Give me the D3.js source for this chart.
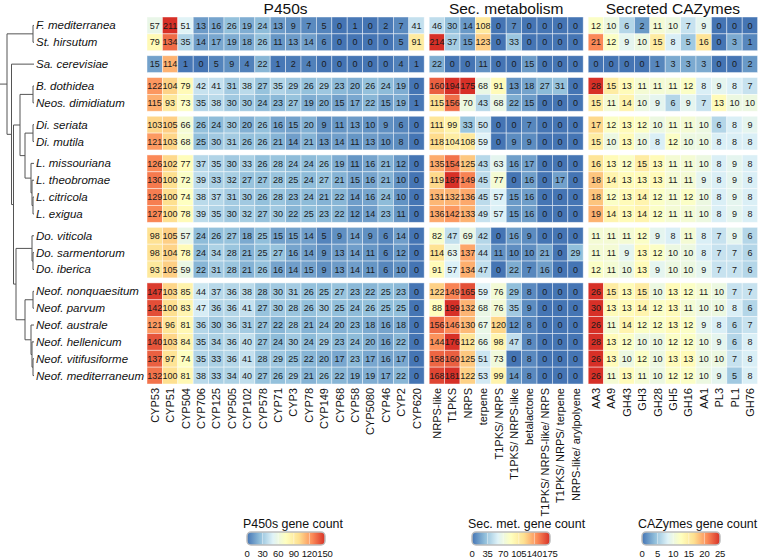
<!DOCTYPE html>
<html><head><meta charset="utf-8">
<script src="https://cdn.jsdelivr.net/npm/d3@7/dist/d3.min.js"></script>
<style>body{margin:0;background:#fff} text{font-family:"Liberation Sans",Arial,Helvetica,sans-serif}</style>
</head><body><svg id="c" width="760" height="560"></svg>
<script>
// ---------------- DATA ----------------
const species = ["F. mediterranea","St. hirsutum","Sa. cerevisiae","B. dothidea","Neos. dimidiatum","Di. seriata","Di. mutila","L. missouriana","L. theobromae","L. citricola","L. exigua","Do. viticola","Do. sarmentorum","Do. iberica","Neof. nonquaesitum","Neof. parvum","Neof. australe","Neof. hellenicum","Neof. vitifusiforme","Neof. mediterraneum"];
const rowGroup = [0,0,1,2,2,3,3,4,4,4,4,5,5,5,6,6,6,6,6,6];

const p450Cols = ["CYP53","CYP51","CYP504","CYP706","CYP125","CYP505","CYP102","CYP578","CYP71","CYP3","CYP78","CYP149","CYP68","CYP58","CYP5080","CYP46","CYP2","CYP620"];
const p450Vals = [
[57,211,51,13,16,26,19,24,13,9,7,5,0,1,0,2,7,41],
[79,134,35,14,17,19,18,26,11,13,14,6,0,0,0,0,5,91],
[15,114,1,0,5,9,4,22,1,2,4,0,0,0,0,0,4,1],
[122,104,79,42,41,31,38,27,35,29,26,29,23,20,26,24,19,0],
[115,93,73,35,38,30,30,24,23,27,19,20,15,17,22,15,19,1],
[103,105,66,26,24,30,20,26,16,15,20,9,11,13,10,9,6,0],
[121,103,68,25,30,31,26,26,21,14,21,13,14,11,13,10,8,0],
[126,102,77,37,35,30,33,26,28,24,24,26,19,11,16,21,12,0],
[130,100,72,39,33,32,27,27,28,25,24,27,21,15,16,21,10,0],
[129,100,74,38,37,31,30,26,28,23,24,21,22,14,16,24,10,0],
[127,100,78,39,35,30,32,27,30,22,25,23,22,12,14,23,11,0],
[98,105,57,24,26,27,18,25,15,15,14,5,9,14,9,6,14,0],
[98,104,78,24,34,28,21,25,27,16,14,9,13,14,11,6,12,0],
[93,105,59,22,31,28,21,26,16,14,15,9,13,14,11,6,10,0],
[147,103,85,44,37,36,38,28,30,31,26,25,27,23,22,25,23,0],
[142,100,83,47,36,36,41,27,30,28,26,30,25,24,26,25,25,0],
[121,96,81,36,30,36,31,27,22,28,21,24,20,23,18,16,18,0],
[140,103,84,35,34,36,40,27,24,30,24,29,23,24,20,16,22,0],
[137,97,74,35,33,36,41,28,29,25,22,20,17,23,17,16,17,0],
[132,100,81,38,33,34,40,27,26,29,21,26,22,19,19,17,22,0]];

const secCols = ["NRPS-like","T1PKS","NRPS","terpene","T1PKS/ NRPS","T1PKS/ NRPS-like","betalactone","T1PKS/ NRPS-like/ NRPS","T1PKS/ NRPS/ terpene","NRPS-like/ arylpolyene"];
const secVals = [
[46,30,14,108,0,7,0,0,0,0],
[214,37,15,123,0,33,0,0,0,0],
[22,0,0,11,0,0,15,0,0,0],
[160,194,175,68,91,13,18,27,31,0],
[115,156,70,43,68,22,15,0,0,0],
[111,99,33,50,0,0,7,0,0,0],
[118,104,108,59,0,9,9,0,0,0],
[135,154,125,43,63,16,17,0,0,0],
[119,187,149,45,77,0,16,0,17,0],
[131,132,136,45,57,15,16,0,0,0],
[136,142,133,49,57,15,16,0,0,0],
[82,47,69,42,0,16,9,0,0,0],
[114,63,137,44,11,10,10,21,0,29],
[91,57,134,47,0,22,7,16,0,0],
[122,149,165,59,76,29,8,0,0,0],
[88,199,132,68,76,35,9,0,0,0],
[156,146,130,67,120,12,8,0,0,0],
[144,176,112,66,98,47,8,0,0,0],
[158,160,125,51,73,0,8,0,0,0],
[168,181,122,53,99,14,8,0,0,0]];

const cazyCols = ["AA3","AA9","GH43","GH3","GH28","GH5","GH16","AA1","PL3","PL1","GH76"];
const cazyVals = [
[12,10,6,2,11,10,7,9,0,0,0],
[21,12,9,10,15,8,5,16,0,3,1],
[0,0,0,0,1,3,3,3,0,0,2],
[28,15,13,11,11,11,12,8,9,8,7],
[15,11,14,10,9,6,9,7,13,10,10],
[17,12,13,12,10,11,11,10,6,8,9],
[15,10,13,10,8,12,10,10,8,8,8],
[16,13,12,15,13,11,11,10,8,9,8],
[18,14,13,13,13,11,11,9,8,9,8],
[18,12,13,14,12,11,12,10,8,9,8],
[19,14,13,14,12,11,11,10,8,9,8],
[11,11,11,12,9,8,11,8,7,9,6],
[11,11,9,13,12,10,10,8,7,7,6],
[12,11,10,13,9,10,10,9,7,7,6],
[26,15,13,15,10,13,12,11,10,7,7],
[30,13,13,14,12,13,11,10,10,8,6],
[26,11,14,12,12,13,12,9,8,6,7],
[28,13,12,10,10,12,12,10,9,6,8],
[26,13,10,12,10,13,13,10,10,7,8],
[26,11,13,11,10,12,12,10,9,5,8]];

const p450Ticks = [0,30,60,90,120,150];
const secTicks = [0,35,70,105,140,175];
const cazyTicks = [0,5,10,15,20,25];
const palette = ["#4575B4","#91BFDB","#E0F3F8","#FFFFBF","#FEE090","#FC8D59","#D73027"];

// dendrogram: internal nodes with height h (distance above leaves), leaves by species index
const tree = {h:27, c:[
  {h:1, c:[0,1]},
  {h:22.5, c:[2,
    {h:20.5, c:[
      {h:14, c:[
        {h:1, c:[3,4]},
        {h:9, c:[
          {h:1, c:[5,6]},
          {h:3, c:[7, {h:2, c:[8, {h:1, c:[9,10]}]}]}
        ]}
      ]},
      {h:18, c:[
        {h:2, c:[11, {h:1, c:[12,13]}]},
        {h:9, c:[
          {h:1, c:[14,15]},
          {h:3, c:[16, {h:2, c:[17, {h:1, c:[18,19]}]}]}
        ]}
      ]}
    ]}
  ]}
]};

// ---------------- LAYOUT ----------------
const svg = d3.select("#c");
const topY = 17, rowH = 16.85, gGap = 5;
const cellW = 15.4, bGap = 5, x0 = 147;
const yBand = d3.scaleBand().domain(d3.range(species.length)).range([topY, topY + species.length*rowH]).paddingInner(0);
const rowY = i => yBand(i) + rowGroup[i]*gGap;
const bottomY = rowY(species.length-1) + rowH;

const blocks = [
  {title:"P450s", cols:p450Cols, vals:p450Vals, ticks:p450Ticks, legend:"P450s gene count", lx:243},
  {title:"Sec. metabolism", cols:secCols, vals:secVals, ticks:secTicks, legend:"Sec. met. gene count", lx:468},
  {title:"Secreted CAZymes", cols:cazyCols, vals:cazyVals, ticks:cazyTicks, legend:"CAZymes gene count", lx:638}
];
let cx = x0;
blocks.forEach((b,bi) => {
  b.x = d3.scaleBand().domain(b.cols).range([cx, cx + b.cols.length*cellW]);
  cx += b.cols.length*cellW + bGap;
  const max = b.ticks[b.ticks.length-1];
  b.color = d3.scaleLinear().domain(palette.map((_,i)=>i*max/(palette.length-1))).range(palette).clamp(true);
});

const defs = svg.append("defs");

blocks.forEach((b,bi) => {
  const g = svg.append("g");
  const cells = [];
  b.vals.forEach((row,ri) => row.forEach((v,ci) => cells.push({ri, col:b.cols[ci], v})));
  g.selectAll("rect.cell").data(cells).join("rect")
    .attr("x", d=>b.x(d.col)).attr("y", d=>rowY(d.ri))
    .attr("width", b.x.bandwidth()).attr("height", rowH)
    .attr("fill", d=>b.color(d.v))
    .attr("stroke","rgba(255,255,255,0.55)").attr("stroke-width",0.8);
  g.selectAll("text.val").data(cells).join("text")
    .attr("x", d=>b.x(d.col)+b.x.bandwidth()/2).attr("y", d=>rowY(d.ri)+rowH/2+3.2)
    .attr("text-anchor","middle").attr("font-size",9).attr("fill","#1a1a1a")
    .text(d=>d.v);
  const [a,z] = b.x.range();
  svg.append("text").attr("x",(a+z)/2).attr("y",14).attr("text-anchor","middle")
    .attr("font-size",15.5).attr("fill","#111").text(b.title);
  svg.append("g").selectAll("text").data(b.cols).join("text")
    .attr("transform", d=>`translate(${b.x(d)+b.x.bandwidth()/2+4},${bottomY+4}) rotate(-90)`)
    .attr("text-anchor","end").attr("font-size",11).attr("fill","#111").text(d=>d);

  const gid = "grad"+bi;
  const lg = defs.append("linearGradient").attr("id",gid);
  palette.forEach((c,i)=>lg.append("stop").attr("offset",(i/(palette.length-1))).attr("stop-color",c));
  const bx0 = b.lx + 4, bx1 = bx0 + 78;
  const ls = d3.scaleLinear().domain([0, b.ticks[b.ticks.length-1]]).range([bx0, bx1]);
  svg.append("text").attr("x",b.lx).attr("y",528).attr("font-size",12.4).attr("fill","#111").text(b.legend);
  svg.append("rect").attr("x",bx0).attr("y",532).attr("width",bx1-bx0).attr("height",13)
    .attr("rx",4).attr("fill",`url(#${gid})`).attr("stroke","#bdbdbd").attr("stroke-width",1.5);
  svg.append("g").selectAll("line").data(b.ticks.slice(1,-1)).join("line")
    .attr("x1",d=>ls(d)).attr("x2",d=>ls(d)).attr("y1",533).attr("y2",544)
    .attr("stroke","rgba(255,255,255,0.45)").attr("stroke-width",1);
  svg.append("g").selectAll("text").data(b.ticks).join("text")
    .attr("x",d=>ls(d)).attr("y",557).attr("text-anchor","middle").attr("font-size",9.5)
    .attr("letter-spacing",-0.2).attr("fill","#111")
    .text(d=>d);
});

const leafX = 34;
svg.append("g").selectAll("text").data(species).join("text")
  .attr("x", leafX+2).attr("y",(d,i)=>rowY(i)+rowH/2+4)
  .attr("font-size",11.5).attr("font-style","italic").attr("fill","#111").text(d=>d);

const hx = d3.scaleLinear().domain([0,27]).range([leafX, 7]);
const root = d3.hierarchy(tree, d => d.c ? d.c.map(k => typeof k === "number" ? {leaf:k} : k) : null);
root.eachAfter(n => {
  if (n.data.leaf !== undefined) { n.px = leafX; n.py = rowY(n.data.leaf)+rowH/2; }
  else { n.px = hx(n.data.h); n.py = d3.mean([d3.min(n.children,c=>c.py), d3.max(n.children,c=>c.py)]); }
});
const tg = svg.append("g").attr("stroke","#555").attr("stroke-width",1).attr("fill","none");
root.each(n => {
  if (!n.children) return;
  tg.append("line").attr("x1",n.px).attr("x2",n.px)
    .attr("y1",d3.min(n.children,c=>c.py)).attr("y2",d3.max(n.children,c=>c.py));
  n.children.forEach(c => tg.append("line").attr("x1",n.px).attr("x2",c.px).attr("y1",c.py).attr("y2",c.py));
});
tg.append("line").attr("x1",0).attr("x2",root.px).attr("y1",root.py).attr("y2",root.py);
</script></body></html>
